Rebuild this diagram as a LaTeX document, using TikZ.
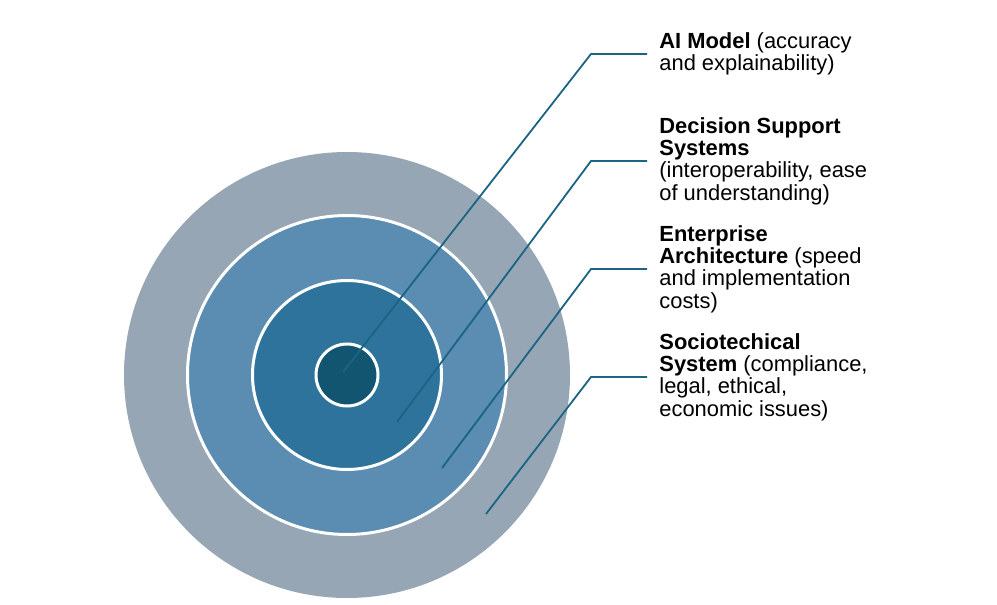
\documentclass[tikz,border=0pt]{standalone}
\usepackage{fontspec}
\setmainfont{Liberation Sans}
\usepackage{tikz}
\usetikzlibrary{positioning}

\definecolor{ringouter}{RGB}{150,166,180}
\definecolor{ringsecond}{RGB}{91,140,177}
\definecolor{ringthird}{RGB}{46,115,155}
\definecolor{ringinner}{RGB}{18,85,112}
\definecolor{leadercol}{RGB}{26,100,132}

\begin{document}
\begin{tikzpicture}[x=0.5pt, y=-0.5pt,
    ring/.style={circle, inner sep=0pt, outer sep=0pt},
    gap/.style={ring, draw=white, line width=1.5pt},
    label/.style={anchor=west, align=left, inner xsep=6pt, inner ysep=0pt,
        font=\fontsize{10.95}{11.15}\selectfont},
    leader/.style={draw=leadercol, line width=0.9pt}]

            \useasboundingbox (0,0) rectangle (997,605);

            %rings
            \node[ring, fill=ringouter, minimum size=223pt] (socring) at (347,375) {};
            \node[gap, fill=ringsecond, minimum size=159.5pt] (earing) at (347,375) {};
            \node[gap, fill=ringthird, minimum size=94.5pt] (dssring) at (347,375) {};
            \node[gap, fill=ringinner, minimum size=31pt] (airing) at (347,375) {};

            %labels
            \node[label] (ai) at (647,54) {\textbf{AI Model} (accuracy\\and explainability)};
            \node[label] (dss) at (647,161) {\textbf{Decision Support}\\\textbf{Systems}\\(interoperability, ease\\of understanding)};
            \node[label] (ea) at (647,269) {\textbf{Enterprise}\\\textbf{Architecture} (speed\\and implementation\\costs)};
            \node[label] (soc) at (647,377) {\textbf{Sociotechical}\\\textbf{System} (compliance,\\legal, ethical,\\economic issues)};

            %leaders
            \foreach \n/\ex/\ey in {ai/343/372, dss/397/422, ea/442/468, soc/486/514}{
                \coordinate (\n end) at (\ex,\ey);
                \draw[leader] (\n end) -- ([xshift=-28pt]\n.west) -- (\n.west);
            };
\end{tikzpicture}
\end{document}
